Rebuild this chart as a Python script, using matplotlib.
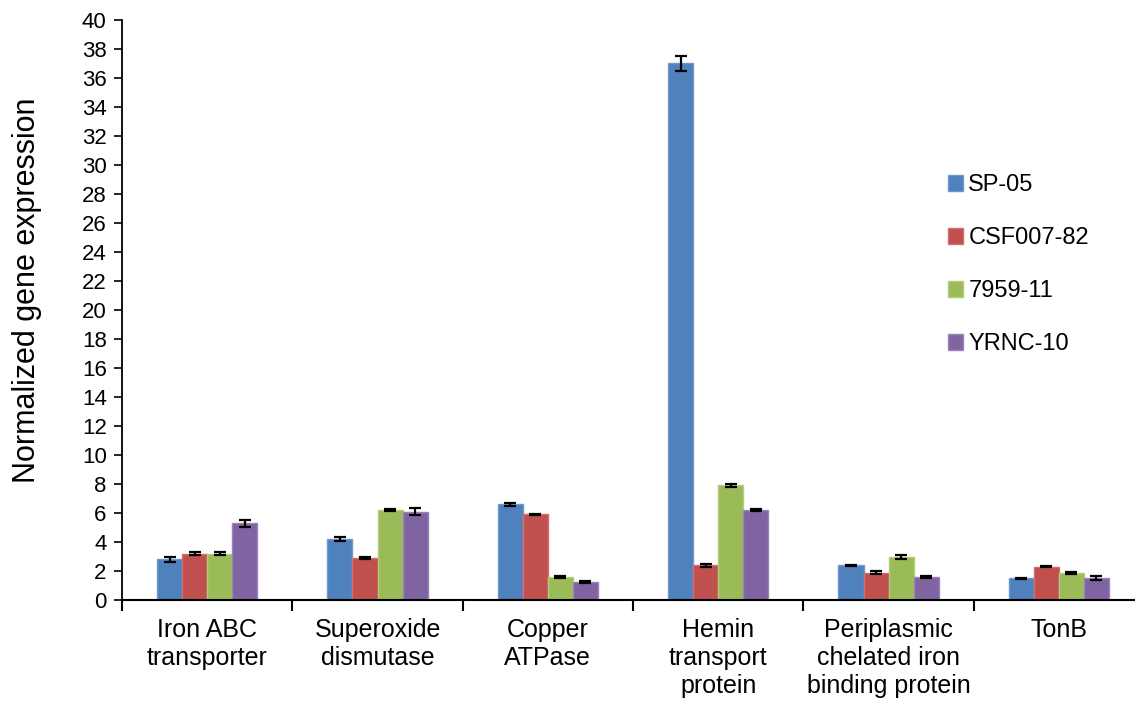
import matplotlib
matplotlib.use("Agg")
import matplotlib.pyplot as plt
import numpy as np

plt.rcParams['font.family'] = ['Liberation Sans', 'DejaVu Sans']

categories = ["Iron ABC\ntransporter", "Superoxide\ndismutase", "Copper\nATPase",
              "Hemin\ntransport\nprotein", "Periplasmic\nchelated iron\nbinding protein", "TonB"]
series = ["SP-05", "CSF007-82", "7959-11", "YRNC-10"]

sp05 = [2.8, 4.2, 6.6, 37.0, 2.4, 1.5]
csf007_82 = [3.2, 2.9, 5.9, 2.4, 1.9, 2.3]
s7959_11 = [3.2, 6.2, 1.6, 7.9, 2.95, 1.85]
yrnc10 = [5.3, 6.1, 1.25, 6.2, 1.6, 1.5]

sp05_err = [0.15, 0.12, 0.12, 0.55, 0.05, 0.05]
csf007_82_err = [0.12, 0.05, 0.05, 0.12, 0.08, 0.05]
s7959_11_err = [0.12, 0.05, 0.06, 0.12, 0.15, 0.08]
yrnc10_err = [0.25, 0.25, 0.08, 0.05, 0.08, 0.15]

values = [sp05, csf007_82, s7959_11, yrnc10]
errors = [sp05_err, csf007_82_err, s7959_11_err, yrnc10_err]
colors = ["#4F81BD", "#C0504D", "#9BBB59", "#8064A2"]
edges = ["#6E99CF", "#D26F6C", "#B2CE7A", "#9A83B9"]

fig = plt.figure(figsize=(11.35, 7.01), dpi=100)
ax = fig.add_axes([0.1075, 0.144, 0.9005, 0.8275])

x = np.arange(len(categories))
width = 0.147
for i, (vals, errs) in enumerate(zip(values, errors)):
    pos = x + (i - 1.5) * width
    ax.bar(pos, vals, width, color=colors[i], edgecolor=edges[i], linewidth=1.0,
           label=series[i], zorder=2)
    ax.errorbar(pos, vals, yerr=errs, fmt='none', ecolor='black', elinewidth=1.6,
                capsize=4.5, capthick=1.6, zorder=3)

ax.set_xlim(-0.5, len(categories) - 0.5)
ax.set_ylim(0, 40)
ax.set_yticks(np.arange(0, 41, 2))
ax.tick_params(axis='y', labelsize=16, length=6, width=1.2, direction='out', pad=5)

ax.set_xticks(x)
ax.set_xticklabels(categories, fontsize=18, linespacing=1.2)
ax.tick_params(axis='x', length=0, pad=13)
ax.set_xticks(np.arange(-0.5, len(categories) + 0.5, 1), minor=True)
ax.tick_params(axis='x', which='minor', length=8, width=1.5, direction='out')

for s in ['top', 'right']:
    ax.spines[s].set_visible(False)
ax.spines['left'].set_linewidth(1.3)
ax.spines['bottom'].set_linewidth(1.5)

fig.text(27 / 1135, 1 - 290 / 701, "Normalized gene expression", fontsize=22,
         rotation=90, ha='center', va='center')

leg = ax.legend(loc='upper left', bbox_to_anchor=(948 / 1135, 1 - 174 / 701),
                bbox_transform=fig.transFigure, borderaxespad=0, borderpad=0,
                frameon=False, fontsize=17, handlelength=0.64, handleheight=0.64,
                handletextpad=0.22, labelspacing=1.32)

fig.savefig("out.png", dpi=100)
